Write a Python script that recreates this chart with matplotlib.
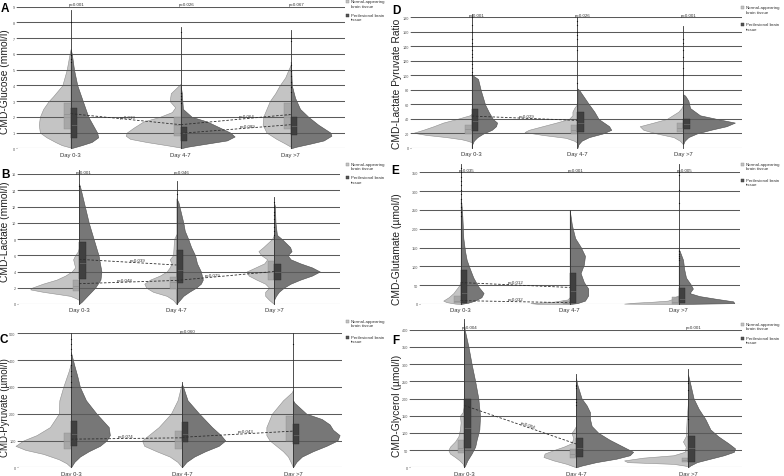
import numpy as np
import matplotlib
matplotlib.use("Agg")
import matplotlib.pyplot as plt
from matplotlib.patches import Rectangle

plt.rcParams["font.family"] = ["Liberation Sans", "DejaVu Sans"]

GROUPS = ["Day 0-3", "Day 4-7", "Day >7"]
LEGEND = ["Normal-appearing\nbrain tissue", "Perilesional brain\ntissue"]

# violin halves are (value, half width) pairs, width in units of group spacing
# ---------------- A  glucose
A_ylabel = "CMD-Glucose (mmol/l)"
A_ymax, A_step = 9, 1
A_norm = [
    [(0.05, 0), (0.2, 0.08), (0.4, 0.14), (0.7, 0.22), (1.0, 0.28), (1.5, 0.29), (2.0, 0.28), (2.5, 0.25),
     (3.0, 0.2), (3.3, 0.16), (4.0, 0.076), (5.0, 0.036), (6.0, 0.01), (6.3, 0)],
    [(0.05, 0), (0.2, 0.13), (0.4, 0.31), (0.6, 0.46), (0.8, 0.5), (1.0, 0.49), (1.3, 0.43), (1.7, 0.34),
     (2.0, 0.19), (2.3, 0.08), (2.6, 0.05), (3.0, 0.1), (3.5, 0.09), (3.9, 0.03), (4.1, 0)],
    [(0.1, 0), (0.3, 0.05), (0.6, 0.13), (1.0, 0.22), (1.5, 0.255), (2.0, 0.25), (2.5, 0.22), (3.0, 0.19),
     (3.5, 0.14), (4.0, 0.1), (4.5, 0.05), (5.0, 0.02), (5.3, 0)],
]
A_peri = [
    [(0, 0), (0.2, 0.1), (0.4, 0.19), (0.7, 0.25), (1.0, 0.24), (1.5, 0.2), (2.0, 0.16), (3.0, 0.11),
     (4.0, 0.06), (5.0, 0.03), (6.0, 0.01), (6.3, 0)],
    [(0, 0), (0.1, 0.06), (0.3, 0.24), (0.5, 0.42), (0.75, 0.49), (1.0, 0.45), (1.3, 0.36), (1.7, 0.24),
     (2.0, 0.1), (2.5, 0.02), (3.5, 0.01), (4.0, 0)],
    [(0, 0), (0.1, 0.05), (0.3, 0.18), (0.5, 0.3), (0.8, 0.37), (1.0, 0.36), (1.5, 0.25), (2.0, 0.16),
     (2.5, 0.085), (3.2, 0.04), (4.0, 0.01), (5.0, 0.005), (5.5, 0)],
]
A_norm_box = [(1.2, 2.2, 2.9), (0.8, 1.5, 2.0), (1.2, 2.1, 2.9)]
A_peri_box = [(0.65, 1.5, 2.55), (0.48, 0.95, 1.33), (0.85, 1.4, 2.0)]
A_line_top = [8.8, 7.7, 7.5]
A_dots = [[5.5, 5.7, 5.9, 8.0], [2.9, 3.1, 3.3, 3.5, 7.4], [3.6, 3.9, 4.2, 4.6, 4.9, 5.3, 6.8, 7.0]]
A_top_p = ["p=0.001", "p=0.026", "p=0.067"]
A_trends = [(0, 2.2, 1, 1.5, "p=0.019"), (1, 1.5, 2, 2.15, "p=0.064"), (1, 0.95, 2, 1.5, "p=0.089")]

# ---------------- B  lactate
B_ylabel = "CMD-Lactate (mmol/l)"
B_ymax, B_step = 16, 2
B_norm = [
    [(0.5, 0), (0.7, 0.03), (1.0, 0.09), (1.2, 0.2), (1.5, 0.37), (1.8, 0.5), (2.0, 0.485), (2.5, 0.37),
     (3.0, 0.23), (3.5, 0.14), (4.0, 0.075), (4.5, 0.04), (5.0, 0.05), (5.5, 0.06), (6.0, 0.04), (6.5, 0.01),
     (7.0, 0)],
    [(0, 0), (0.5, 0.035), (1.0, 0.1), (1.5, 0.24), (2.0, 0.31), (2.5, 0.33), (3.0, 0.27), (3.5, 0.17),
     (4.0, 0.1), (4.5, 0.07), (5.0, 0.05), (5.5, 0.07), (6.0, 0.035), (7.0, 0.03), (8.0, 0.025), (8.6, 0)],
    [(0, 0), (0.2, 0.02), (0.5, 0.05), (1.0, 0.09), (1.5, 0.09), (2.0, 0.05), (2.5, 0.09), (3.0, 0.18),
     (3.5, 0.26), (4.0, 0.28), (4.5, 0.19), (5.0, 0.1), (5.5, 0.07), (6.0, 0.13), (6.5, 0.16), (7.0, 0.11),
     (8.0, 0.02), (8.5, 0)],
]
B_peri = [
    [(0, 0), (0.3, 0.03), (1.0, 0.085), (2.0, 0.165), (3.0, 0.22), (4.0, 0.23), (6.0, 0.2), (8.0, 0.15),
     (10.0, 0.1), (12.0, 0.06), (13.0, 0.04), (14.5, 0.01), (14.8, 0)],
    [(0, 0), (0.3, 0.02), (1.0, 0.07), (1.5, 0.13), (2.0, 0.2), (2.5, 0.25), (3.0, 0.27), (4.0, 0.25),
     (5.0, 0.21), (6.0, 0.19), (7.0, 0.15), (8.0, 0.12), (9.0, 0.085), (10.0, 0.07), (11.0, 0.05),
     (12.5, 0.02), (13.0, 0)],
    [(0.5, 0), (1.0, 0.02), (1.5, 0.05), (2.0, 0.1), (2.5, 0.17), (3.0, 0.27), (3.5, 0.39), (4.0, 0.47),
     (4.5, 0.39), (5.0, 0.27), (5.5, 0.17), (6.0, 0.14), (6.5, 0.18), (7.0, 0.165), (8.0, 0.08), (8.5, 0.03),
     (10.0, 0.015), (12.0, 0.01), (12.5, 0)],
]
B_norm_box = [(1.65, 2.2, 2.9), (1.8, 2.7, 3.35), (3.0, 4.0, 5.3)]
B_peri_box = [(3.1, 5.1, 7.6), (2.6, 4.2, 6.6), (3.0, 4.0, 4.9)]
B_line_top = [16.5, 15.2, 13.2]
B_dots = [[14.5], [13.5], [8.5, 9.0, 9.5, 10.0, 10.5, 11.0, 11.3, 12.0, 12.5]]
B_top_p = ["p=0.001", "p=0.046", ""]
B_trends = [(0, 5.5, 1, 4.8, "p=0.039"), (0, 2.5, 1, 2.9, "p=0.048"), (1, 2.9, 2, 4.0, "p=0.079")]

# ---------------- C  pyruvate
C_ylabel = "CMD-Pyruvate (µmol/l)"
C_ymax, C_step = 500, 100
C_norm = [
    [(0, 0), (15, 0.04), (30, 0.11), (50, 0.25), (65, 0.41), (80, 0.5), (100, 0.43), (120, 0.31), (150, 0.19),
     (200, 0.11), (250, 0.105), (300, 0.07), (360, 0.02), (390, 0)],
    [(0, 0), (20, 0.04), (40, 0.11), (60, 0.23), (80, 0.34), (100, 0.36), (120, 0.3), (150, 0.21), (200, 0.1),
     (250, 0.04), (300, 0.01), (310, 0)],
    [(0, 0), (10, 0.01), (40, 0.045), (60, 0.09), (80, 0.15), (100, 0.21), (120, 0.24), (150, 0.24),
     (200, 0.19), (250, 0.09), (280, 0.01), (290, 0)],
]
C_peri = [
    [(0, 0), (20, 0.03), (40, 0.08), (60, 0.16), (80, 0.26), (100, 0.32), (120, 0.35), (150, 0.34), (200, 0.23),
     (250, 0.135), (300, 0.08), (340, 0.057), (380, 0.03), (420, 0.005), (430, 0)],
    [(0, 0), (20, 0.04), (40, 0.11), (60, 0.21), (80, 0.33), (100, 0.39), (120, 0.35), (150, 0.27),
     (200, 0.155), (250, 0.05), (300, 0.01), (310, 0)],
    [(0, 0), (20, 0.03), (40, 0.08), (60, 0.18), (80, 0.3), (100, 0.4), (120, 0.42), (140, 0.36), (160, 0.33),
     (180, 0.26), (200, 0.12), (240, 0.015), (250, 0)],
]
C_norm_box = [(68, 100, 127), (68, 100, 137), (100, 135, 190)]
C_peri_box = [(81, 125, 172), (93, 125, 170), (87, 122, 162)]
C_line_top = [500, 320, 500]
C_dots = [[300, 320, 340, 360, 380, 400, 420, 440, 460, 480], [], [460]]
C_top_p = ["", "p=0.060", ""]
C_trends = [(0, 105, 1, 110, "p=0.074"), (1, 112, 2, 135, "p=0.043")]

# ---------------- D  lactate / pyruvate ratio
D_ylabel = "CMD-Lactate Pyruvate Ratio"
D_ymax, D_step = 180, 20
D_norm = [
    [(8, 0), (10, 0.04), (12, 0.095), (15, 0.24), (18, 0.43), (21, 0.55), (25, 0.46), (30, 0.36), (35, 0.27),
     (40, 0.14), (45, 0.02), (47, 0)],
    [(7, 0), (10, 0.03), (14, 0.11), (18, 0.33), (22, 0.5), (25, 0.46), (30, 0.33), (35, 0.2), (40, 0.08),
     (45, 0.047), (50, 0.047), (55, 0.03), (60, 0.005), (62, 0)],
    [(5, 0), (10, 0.03), (15, 0.09), (20, 0.25), (25, 0.375), (30, 0.41), (35, 0.28), (40, 0.155), (50, 0.045),
     (55, 0.015), (60, 0)],
]
D_peri = [
    [(0, 0), (5, 0.005), (10, 0.02), (15, 0.054), (20, 0.11), (25, 0.19), (30, 0.23), (35, 0.24), (40, 0.2),
     (50, 0.16), (60, 0.126), (80, 0.085), (95, 0.06), (100, 0.01), (102, 0)],
    [(0, 0), (5, 0.01), (10, 0.04), (15, 0.11), (20, 0.24), (25, 0.32), (30, 0.3), (40, 0.2), (50, 0.16),
     (60, 0.11), (70, 0.063), (80, 0.016), (82, 0)],
    [(5, 0), (10, 0.015), (15, 0.05), (20, 0.13), (25, 0.26), (30, 0.41), (35, 0.49), (40, 0.32), (45, 0.16),
     (55, 0.066), (65, 0.05), (72, 0.02), (74, 0)],
]
D_norm_box = [(19, 26, 32), (19, 25, 31), (22, 28, 35)]
D_peri_box = [(24, 37, 54), (22, 35, 50), (26, 33, 40)]
D_line_top = [185, 180, 168]
D_dots = [[100, 105, 110, 115, 120, 125, 130, 135, 140, 145, 150, 160, 170, 180],
          [90, 135, 150, 155, 160, 170, 175], [100, 110, 125, 135, 145, 150]]
D_top_p = ["p=0.001", "p=0.026", "p=0.001"]
D_trends = [(0, 44, 1, 38, "p=0.029")]

# ---------------- E  glutamate
E_ylabel = "CMD-Glutamate (µmol/l)"
E_ymax, E_step = 350, 50
E_norm = [
    [(0, 0), (1, 0.05), (5, 0.13), (9, 0.16), (18, 0.11), (29, 0.067), (47, 0.02), (58, 0)],
    [(0, 0), (0.6, 0.3), (2.3, 0.36), (6, 0.15), (12, 0.02), (18, 0)],
    [(0, 0), (1, 0.5), (3.5, 0.4), (6, 0.24), (9, 0.1), (14, 0.05), (18, 0.04), (23, 0)],
]
E_peri = [
    [(0, 0), (3.5, 0.07), (9, 0.13), (18, 0.19), (29, 0.21), (47, 0.16), (70, 0.116), (93, 0.085),
     (117, 0.055), (140, 0.04), (175, 0.024), (233, 0.015), (268, 0.006), (280, 0)],
    [(0, 0), (2.3, 0.07), (9, 0.14), (23, 0.17), (41, 0.17), (58, 0.13), (82, 0.1), (105, 0.13), (128, 0.14),
     (152, 0.1), (175, 0.05), (210, 0.02), (250, 0)],
    [(0, 0), (2.3, 0.51), (7, 0.5), (14, 0.34), (21, 0.19), (29, 0.1), (41, 0.13), (52, 0.11), (70, 0.067),
     (93, 0.05), (117, 0.04), (140, 0.01), (146, 0)],
]
E_norm_box = [(2, 9, 22), (1, 3.5, 9), (1, 5, 18)]
E_peri_box = [(2, 29, 91), (2, 35, 82), (2, 12, 42)]
E_line_top = [372, 250, 372]
E_dots = [[233, 245, 257, 268, 280, 292, 303, 315, 327, 338, 350, 362],
          [], [117, 122, 128, 134, 140, 268, 303, 344, 350]]
E_top_p = ["p=0.035", "p=0.001", "p=0.005"]
E_trends = [(0, 57, 1, 44, "p=0.012"), (0, 9, 1, 3.5, "p=0.032")]

# ---------------- F  glycerol
F_ylabel = "CMD-Glycerol (µmol/l)"
F_ymax, F_step = 400, 50
F_norm = [
    [(0, 0), (10, 0.01), (20, 0.04), (30, 0.08), (40, 0.125), (50, 0.14), (60, 0.125), (75, 0.08), (90, 0.05),
     (110, 0.036), (130, 0.03), (150, 0.036), (160, 0.012), (180, 0)],
    [(0, 0), (10, 0.083), (20, 0.2), (30, 0.29), (40, 0.28), (50, 0.2), (60, 0.11), (70, 0.04), (85, 0.024),
     (100, 0.04), (110, 0.018), (120, 0)],
    [(3, 0), (5, 0.03), (10, 0.13), (15, 0.54), (20, 0.57), (28, 0.4), (35, 0.13), (45, 0.03), (60, 0.02),
     (75, 0.045), (90, 0.02), (150, 0.01), (190, 0)],
]
F_peri = [
    [(0, 0), (5, 0.01), (20, 0.03), (40, 0.068), (60, 0.1), (80, 0.113), (110, 0.137), (150, 0.143),
     (200, 0.128), (250, 0.1), (300, 0.068), (350, 0.04), (400, 0.006), (420, 0)],
    [(0, 0), (5, 0.05), (15, 0.18), (25, 0.36), (35, 0.48), (45, 0.51), (60, 0.42), (80, 0.3), (100, 0.2),
     (120, 0.14), (140, 0.125), (160, 0.125), (180, 0.095), (200, 0.05), (240, 0.012), (260, 0)],
    [(0, 0), (5, 0.02), (15, 0.08), (25, 0.2), (35, 0.32), (45, 0.41), (55, 0.42), (70, 0.36), (90, 0.27),
     (110, 0.2), (140, 0.155), (170, 0.095), (200, 0.05), (250, 0.015), (270, 0)],
]
F_norm_box = [(41, 55, 78), (26, 40, 53), (15, 20, 26)]
F_peri_box = [(56, 115, 200), (29, 55, 84), (15, 55, 92)]
F_line_top = [430, 270, 285]
F_dots = [[], [180, 190, 200, 230, 235, 240], [140, 225, 245, 250]]
F_top_p = ["p=0.004", "", "p=0.001"]
F_trends = [(0, 180, 1, 68, "p=0.004")]

# layout in figure pixels: axes box (left, right, top, bottom), first group centre, group spacing
LAYOUT = {
    "A": dict(box=(17, 345, 7.6, 149.3), c0=70.7, sp=110, letter=(5, 9), ylab=(4.8, 82), leg=(347.5, 2.5, 16),
              trend_t=[0.52, 0.6, 0.61]),
    "B": dict(box=(18, 340, 175, 305), c0=79, sp=97.5, letter=(5, 175), ylab=(5, 232),
              leg=(347.5, 165, 178.5), trend_t=[0.6, 0.47, 0.37]),
    "C": dict(box=(17.5, 342, 334.3, 468.3), c0=71, sp=111, letter=(4, 340), ylab=(4.8, 408), ysize=7.0,
              leg=(347.5, 322, 338), trend_t=[0.49, 0.57]),
    "D": dict(box=(410.7, 741.7, 18.3, 149), c0=471.7, sp=105.7, letter=(396, 11), ylab=(397, 84),
              leg=(742, 8.5, 25.5), trend_t=[0.52]),
    "E": dict(box=(420, 740, 173.3, 305), c0=460.7, sp=109, letter=(395, 171), ylab=(397, 249),
              leg=(742, 165, 181), trend_t=[0.5, 0.5]),
    "F": dict(box=(410, 741.7, 330.7, 468.3), c0=464, sp=112, letter=(396, 341), ylab=(397, 406),
              leg=(742, 325, 339), trend_t=[0.56], rotate=True),
}

W, H = 784, 477
LIGHT, DARK = "#c4c4c4", "#777777"
LIGHT_EDGE, DARK_EDGE = "#8e8e8e", "#4a4a4a"
LIGHT_BOX, DARK_BOX = "#a4a4a4", "#404040"
GRID = "#5a5a5a"

fig = plt.figure(figsize=(W / 100, H / 100), dpi=100)


def draw_panel(name):
    g = globals()
    L = LAYOUT[name]
    left, right, top, bottom = L["box"]
    ax = fig.add_axes([left / W, 1 - bottom / H, (right - left) / W, (bottom - top) / H])
    sp, c0 = L["sp"], L["c0"]
    ax.set_xlim((left - c0) / sp, (right - c0) / sp)
    ymax, step = g[name + "_ymax"], g[name + "_step"]
    ax.set_ylim(0, ymax)
    for s in ax.spines.values():
        s.set_visible(False)

    ticks = np.arange(0, ymax + step / 2, step)
    for t in ticks:
        ax.axhline(t, color=GRID, lw=0.75, zorder=2.5)
    ax.set_yticks(ticks)
    ax.set_yticklabels([str(int(t)) for t in ticks])
    ax.tick_params(axis="y", labelsize=2.7, length=1.0, width=0.4, pad=0.4, colors="#555555")
    ax.set_xticks(range(3))
    ax.set_xticklabels(GROUPS)
    ax.tick_params(axis="x", labelsize=4.2, length=0, pad=2.5, labelcolor="#333333")

    bw = 6.5 / sp
    for i in range(3):
        nv = np.array(g[name + "_norm"][i])
        pv = np.array(g[name + "_peri"][i])
        ax.fill_betweenx(nv[:, 0], i - nv[:, 1], i, facecolor=LIGHT, edgecolor=LIGHT_EDGE, lw=0.4,
                         zorder=2, clip_on=False)
        ax.fill_betweenx(pv[:, 0], i, i + pv[:, 1], facecolor=DARK, edgecolor=DARK_EDGE, lw=0.4,
                         zorder=2, clip_on=False)
        q1, med, q3 = g[name + "_norm_box"][i]
        ax.add_patch(Rectangle((i - bw, q1), bw, q3 - q1, facecolor=LIGHT_BOX, edgecolor="#8a8a8a",
                               lw=0.3, alpha=0.9, zorder=3, clip_on=False))
        ax.plot([i - bw, i], [med, med], color="#8a8a8a", lw=0.4, zorder=3.2)
        q1, med, q3 = g[name + "_peri_box"][i]
        ax.add_patch(Rectangle((i, q1), bw, q3 - q1, facecolor=DARK_BOX, edgecolor="#2a2a2a",
                               lw=0.3, zorder=3, clip_on=False))
        ax.plot([i, i + bw], [med, med], color="#777777", lw=0.4, zorder=3.2)
        ax.plot([i, i], [0, g[name + "_line_top"][i]], color="#333333", lw=0.6, zorder=4, clip_on=False)
        dots = g[name + "_dots"][i]
        if dots:
            ax.plot([i] * len(dots), dots, "o", color="#111111", ms=0.9, mew=0, zorder=5, clip_on=False)
        lab = g[name + "_top_p"][i]
        if lab:
            ax.annotate(lab, (i + 0.05, ymax), xytext=(0, 0.3), textcoords="offset points", ha="center",
                        va="bottom", fontsize=3.2, color="#333333", zorder=7, annotation_clip=False)

    for k, (ga, va, gb, vb, lab) in enumerate(g[name + "_trends"]):
        ax.plot([ga, gb], [va, vb], ls=(0, (3, 2)), color="#2e2e2e", lw=0.6, zorder=6)
        t = L["trend_t"][k]
        xm, ym = ga + t * (gb - ga), va + t * (vb - va)
        rot = 0
        if L.get("rotate"):
            p0 = ax.transData.transform((ga, va))
            p1 = ax.transData.transform((gb, vb))
            rot = np.degrees(np.arctan2(p1[1] - p0[1], p1[0] - p0[0]))
        ax.annotate(lab, (xm, ym), xytext=(0, 0.4), textcoords="offset points", ha="center", va="bottom",
                    fontsize=3.2, color="#333333", rotation=rot, rotation_mode="anchor", zorder=7)

    # panel letter, y label, legend
    lx, ly = L["letter"]
    fig.text(lx / W, 1 - ly / H, name, fontsize=8.5, fontweight="bold", ha="center", va="center")
    yx, yy = L["ylab"]
    fig.text(yx / W, 1 - yy / H, g[name + "_ylabel"], fontsize=L.get("ysize", 7.4), rotation=90,
             ha="center", va="center", color="#222222")
    sx, s1, s2 = L["leg"]
    for sy, col, ec, txt in [(s1, LIGHT, "#8e8e8e", LEGEND[0]), (s2, "#555555", "#333333", LEGEND[1])]:
        fig.patches.append(Rectangle(((sx - 1.5) / W, 1 - (sy + 1.5) / H), 3 / W, 3 / H, facecolor=col,
                                     edgecolor=ec, lw=0.3, transform=fig.transFigure, figure=fig))
        fig.text((sx + 3.5) / W, 1 - (sy + 2) / H, txt, fontsize=3.2, ha="left", va="center",
                 linespacing=1.2, color="#333333")


for p in ["A", "B", "C", "D", "E", "F"]:
    draw_panel(p)

fig.savefig("out.png", dpi=100, facecolor="white")
